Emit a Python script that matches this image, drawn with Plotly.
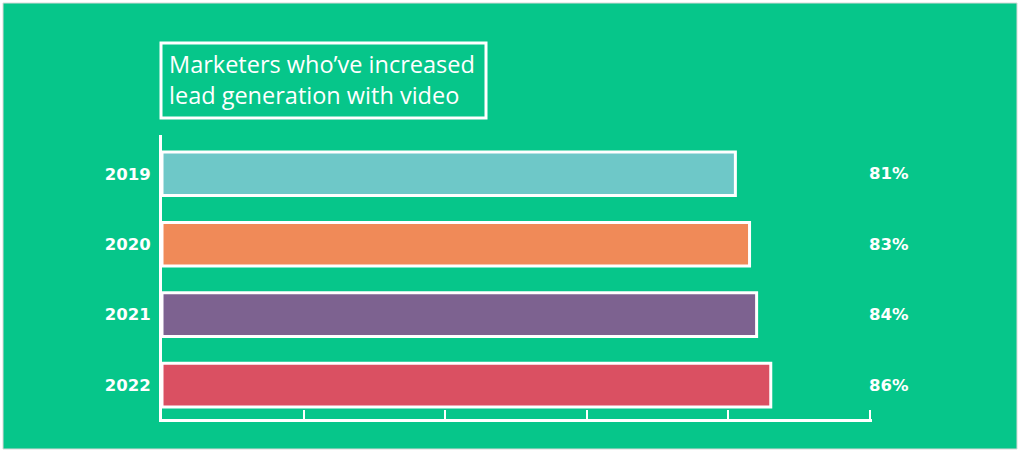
import plotly.graph_objects as go

years = ["2019", "2020", "2021", "2022"]
values = [81, 83, 84, 86]
bar_colors = ["#6EC8C8", "#F08A58", "#7D6290", "#DA5062"]
title_lines = ["Marketers who’ve increased", "lead generation with video"]
x_ticks = [0, 20, 40, 60, 80, 100]

GREEN = "#06C68A"
W, H = 1024, 454
L, R, T, B = 162, 152, 135, 35
pw, ph = W - L - R, H - T - B

def px(x):
    return (x - L) / pw

def py(y):
    return (H - B - y) / ph

cat_order = years[::-1]

fig = go.Figure()
fig.add_trace(go.Bar(
    y=years, x=values, orientation="h",
    marker=dict(color=bar_colors, line=dict(color="white", width=3)),
    width=0.62, hoverinfo="skip",
))

for yr, v in zip(years, values):
    fig.add_annotation(
        x=100, y=cat_order.index(yr), xref="x", yref="y", text=f"{v}%",
        showarrow=False, xanchor="left", yanchor="middle", xshift=-3,
        font=dict(family="DejaVu Sans", size=16.5, color="white", weight="bold"),
    )

fig.add_annotation(
    x=px(167), y=py(79), xref="paper", yref="paper",
    text="<br>".join(title_lines), showarrow=False, align="left",
    xanchor="left", yanchor="middle",
    font=dict(family="Open Sans", size=23.5, color="white"),
)

shapes = [
    dict(type="rect", xref="paper", yref="paper", x0=px(3), x1=px(1017),
         y0=py(449), y1=py(3), fillcolor=GREEN,
         line=dict(color="#D8D8D8", width=1), layer="below"),
    dict(type="rect", xref="paper", yref="paper", x0=px(161), x1=px(486),
         y0=py(118), y1=py(43), line=dict(color="white", width=3)),
]

fig.update_layout(
    width=W, height=H, margin=dict(l=L, r=R, t=T, b=B, pad=0),
    paper_bgcolor="white", plot_bgcolor="rgba(0,0,0,0)",
    showlegend=False, shapes=shapes, bargap=0.38,
    xaxis=dict(range=[0, 100.3], tickvals=x_ticks, showticklabels=False,
               ticks="inside", ticklen=9, tickwidth=2, tickcolor="white",
               showline=True, linecolor="white", linewidth=3,
               showgrid=False, zeroline=False, fixedrange=True),
    yaxis=dict(type="category", categoryorder="array", categoryarray=cat_order,
               range=[-0.48, 3.55], showline=True, linecolor="white",
               linewidth=3, showgrid=False, zeroline=False, ticks="",
               ticklabelstandoff=5,
               tickfont=dict(family="DejaVu Sans", size=16.5, color="white", weight="bold"),
               fixedrange=True),
)

fig.write_html("out.html", config={"displayModeBar": False},
               post_script="document.body.style.margin='0';")
